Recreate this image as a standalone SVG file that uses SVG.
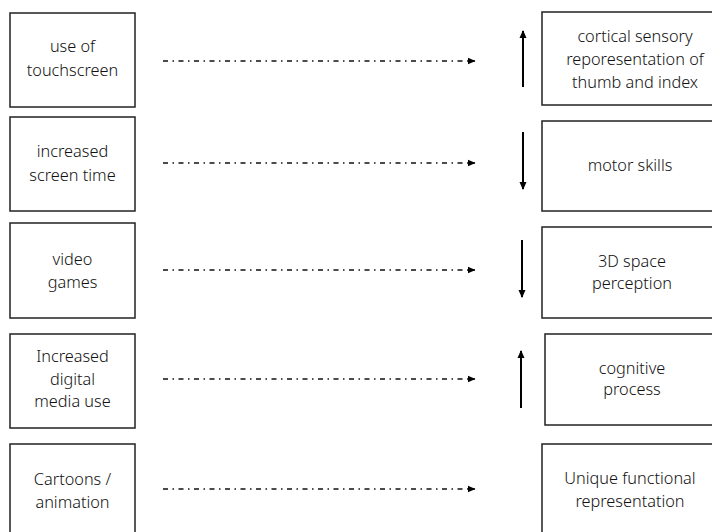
<svg xmlns="http://www.w3.org/2000/svg" width="712" height="532" viewBox="0 0 712 532">
<defs>
<style>
.box{fill:#fff;stroke:#222;stroke-width:1.5}
.t{font-family:"Noto Sans",Lato,sans-serif;font-weight:300;font-size:16.3px;fill:#111;text-anchor:middle}
.dash{stroke:#111;stroke-width:1.3;stroke-dasharray:5,4.5,1.5,4.5;fill:none}
.v{stroke:#000;stroke-width:2;fill:none}
</style>
<marker id="ah" markerWidth="8" markerHeight="8" refX="7" refY="4" orient="auto" markerUnits="userSpaceOnUse"><path d="M0,0.8 L7.5,4 L0,7.2 Z" fill="#000"/></marker>
<marker id="vh" markerWidth="8" markerHeight="9" refX="7" refY="4" orient="auto" markerUnits="userSpaceOnUse"><path d="M0,0.5 L8,4 L0,7.5 Z" fill="#000"/></marker>
</defs>
<rect width="712" height="532" fill="#fff"/>
<g id="n1"><rect class="box" x="10" y="13" width="125" height="94"/><text class="t" x="72.5" y="52">use of</text><text class="t" x="72.5" y="76">touchscreen</text></g>
<g id="n2"><rect class="box" x="10" y="117" width="125" height="94"/><text class="t" x="72.5" y="157">increased</text><text class="t" x="72.5" y="181">screen time</text></g>
<g id="n3"><rect class="box" x="10" y="223" width="125" height="95"/><text class="t" x="72.5" y="265">video</text><text class="t" x="72.5" y="288">games</text></g>
<g id="n4"><rect class="box" x="10" y="334" width="125" height="94"/><text class="t" x="72.5" y="362">Increased</text><text class="t" x="72.5" y="385">digital</text><text class="t" x="72.5" y="407">media use</text></g>
<g id="n5"><rect class="box" x="10" y="444" width="125" height="100"/><text class="t" x="72.5" y="485">Cartoons /</text><text class="t" x="72.5" y="508">animation</text></g>
<g id="m1"><rect class="box" x="542" y="12" width="180" height="93"/><text class="t" x="635" y="42">cortical sensory</text><text class="t" x="635" y="65">reporesentation of</text><text class="t" x="635" y="88">thumb and index</text></g>
<g id="m2"><rect class="box" x="542" y="121" width="180" height="90"/><text class="t" x="630" y="171">motor skills</text></g>
<g id="m3"><rect class="box" x="542" y="227" width="180" height="91"/><text class="t" x="632" y="267">3D space</text><text class="t" x="632" y="289">perception</text></g>
<g id="m4"><rect class="box" x="545" y="334" width="180" height="91"/><text class="t" x="632" y="374">cognitive</text><text class="t" x="632" y="395">process</text></g>
<g id="m5"><rect class="box" x="542" y="444" width="180" height="100"/><text class="t" x="630" y="484">Unique functional</text><text class="t" x="630" y="507">representation</text></g>
<g id="connectors">
<line class="dash" x1="163" y1="61" x2="475" y2="61" marker-end="url(#ah)"/>
<line class="dash" x1="163" y1="163" x2="475" y2="163" marker-end="url(#ah)"/>
<line class="dash" x1="163" y1="270" x2="475" y2="270" marker-end="url(#ah)"/>
<line class="dash" x1="163" y1="379" x2="475" y2="379" marker-end="url(#ah)"/>
<line class="dash" x1="163" y1="489" x2="475" y2="489" marker-end="url(#ah)"/>
<line class="v" x1="523" y1="87" x2="523" y2="31" marker-end="url(#vh)"/>
<line class="v" x1="523" y1="132" x2="523" y2="189" marker-end="url(#vh)"/>
<line class="v" x1="522" y1="240" x2="522" y2="297" marker-end="url(#vh)"/>
<line class="v" x1="521" y1="408" x2="521" y2="351" marker-end="url(#vh)"/>
</g>
</svg>
